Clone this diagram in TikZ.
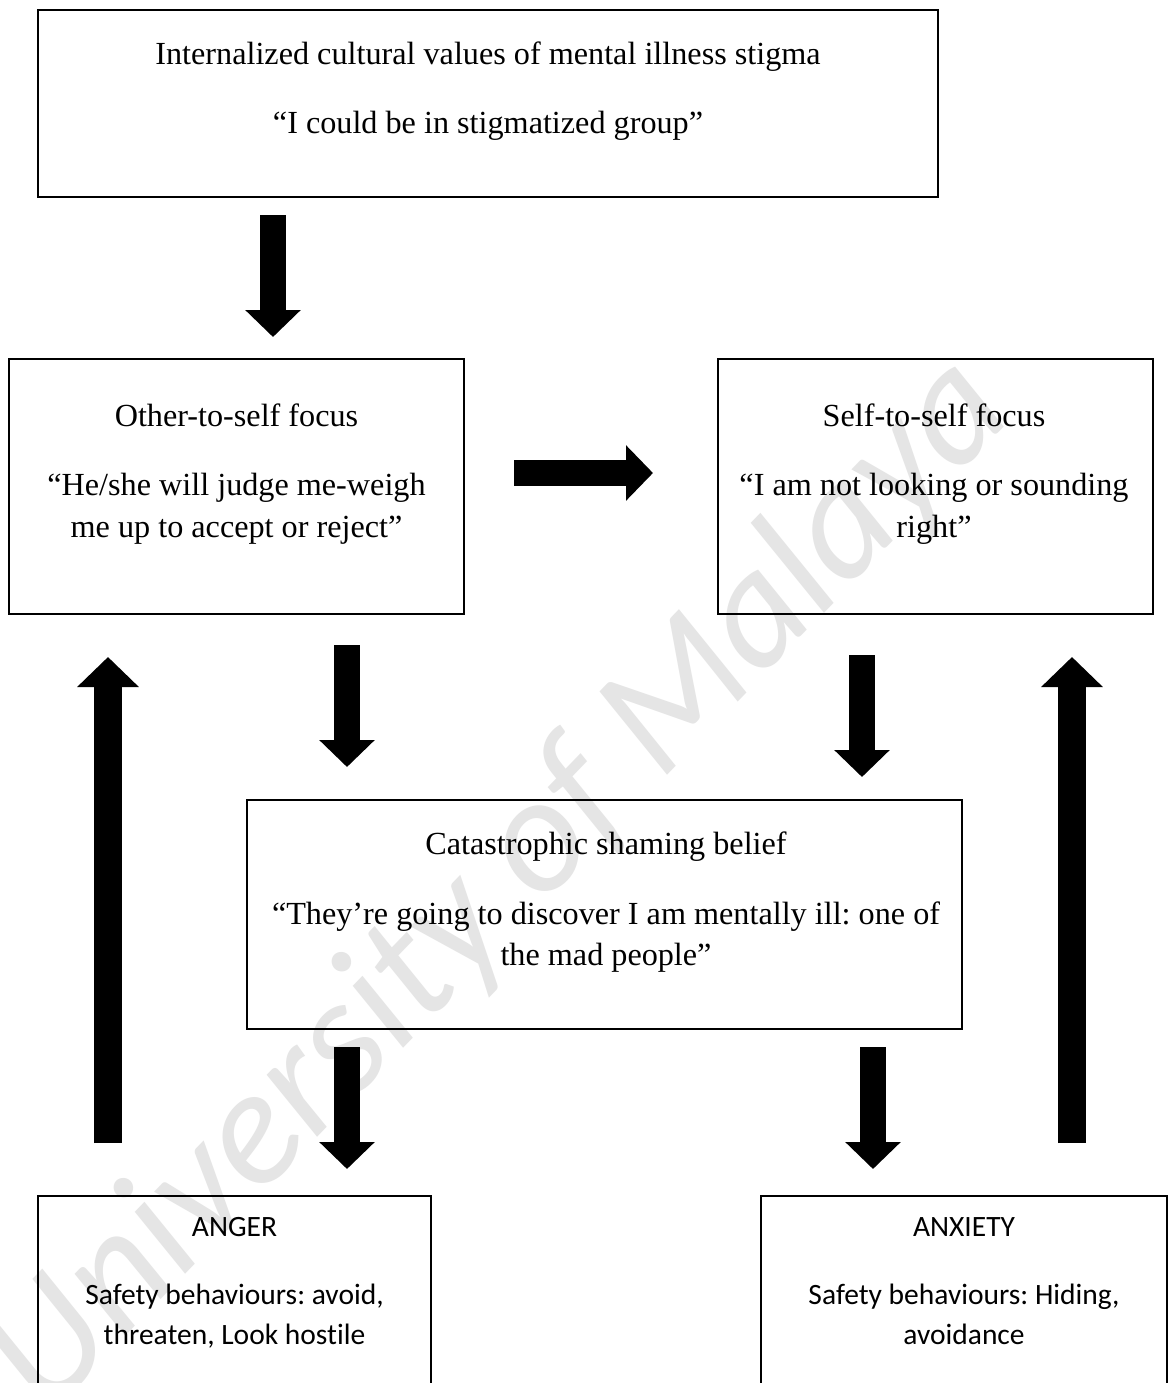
\documentclass[tikz,border=0pt]{standalone}
\usepackage{fontspec}
\setmainfont{Liberation Serif}
\newfontfamily\calfont[Ligatures=NoCommon]{Carlito}
\usetikzlibrary{arrows.meta}
\frenchspacing
\begin{document}
\begin{tikzpicture}[x=0.5pt,y=-0.5pt,
  box/.style={draw=black, line width=1.1pt, rectangle, inner sep=0pt},
  tnr/.style={font=\fontsize{16.1}{19}\selectfont, anchor=base, inner sep=0pt},
  cal/.style={font=\calfont\fontsize{14.75}{18}\selectfont, anchor=base, inner sep=0pt},
  bigarrow/.style={line width=13pt, -{Triangle[width=27pt,length=13.5pt]}},
  tallarrow/.style={line width=14pt, -{Triangle[width=30pt,length=15pt]}},
  wmark/.style={rotate=46, text=black!10, font=\calfont\itshape\fontsize{83}{85}\selectfont, inner sep=0pt}
]
\useasboundingbox (0,0) rectangle (1171,1383);
\fill[white] (0,0) rectangle (1171,1383);

% watermark
\node[wmark] (wm) at (500,885) {University of Malaya};

% boxes
\node[box, minimum width=450pt, minimum height=93.5pt] (top) at (488,103.5) {};
\node[box, minimum width=227.5pt, minimum height=127.5pt] (other) at (236.5,486.5) {};
\node[box, minimum width=217.5pt, minimum height=127.5pt] (self) at (935.5,486.5) {};
\node[box, minimum width=357.5pt, minimum height=114.5pt] (cat) at (604.5,914.5) {};
\node[box, minimum width=196.5pt, minimum height=122pt] (anger) at (234.5,1318) {};
\node[box, minimum width=203pt, minimum height=122pt] (anxiety) at (964,1318) {};

% texts
\node[tnr] (topA) at (488,64) {Internalized cultural values of mental illness stigma};
\node[tnr] (topB) at (488,133) {“I could be in stigmatized group”};
\node[tnr] (othA) at (236.5,426) {Other-to-self focus};
\node[tnr] (othB) at (236.5,495) {“He/she will judge me-weigh};
\node[tnr] (othC) at (236.5,537) {me up to accept or reject”};
\node[tnr] (selfA) at (934,426) {Self-to-self focus};
\node[tnr] (selfB) at (934,495) {“I am not looking or sounding};
\node[tnr] (selfC) at (934,537) {right”};
\node[tnr] (catA) at (606,854) {Catastrophic shaming belief};
\node[tnr] (catB) at (606,924) {“They’re going to discover I am mentally ill: one of};
\node[tnr] (catC) at (606,965) {the mad people”};
\node[cal] (angA) at (234.5,1236) {ANGER};
\node[cal] (angB) at (234.5,1304) {Safety behaviours: avoid,};
\node[cal] (angC) at (234.5,1344) {threaten, Look hostile};
\node[cal] (anxA) at (964,1236) {ANXIETY};
\node[cal] (anxB) at (964,1304) {Safety behaviours: Hiding,};
\node[cal] (anxC) at (964,1344) {avoidance};

% arrow end points
\coordinate (a1s) at (273,215);  \coordinate (a1e) at (273,337);
\coordinate (a2s) at (514,473);  \coordinate (a2e) at (653,473);
\coordinate (a3s) at (347,645);  \coordinate (a3e) at (347,767);
\coordinate (a4s) at (862,655);  \coordinate (a4e) at (862,777);
\coordinate (a5s) at (108,1143); \coordinate (a5e) at (108,657);
\coordinate (a6s) at (1072,1143);\coordinate (a6e) at (1072,657);
\coordinate (a7s) at (347,1047); \coordinate (a7e) at (347,1169);
\coordinate (a8s) at (873,1047); \coordinate (a8e) at (873,1169);

\draw[bigarrow] (a1s) -- (a1e);
\draw[bigarrow] (a2s) -- (a2e);
\draw[bigarrow] (a3s) -- (a3e);
\draw[bigarrow] (a4s) -- (a4e);
\draw[tallarrow] (a5s) -- (a5e);
\draw[tallarrow] (a6s) -- (a6e);
\draw[bigarrow] (a7s) -- (a7e);
\draw[bigarrow] (a8s) -- (a8e);
\end{tikzpicture}
\end{document}
